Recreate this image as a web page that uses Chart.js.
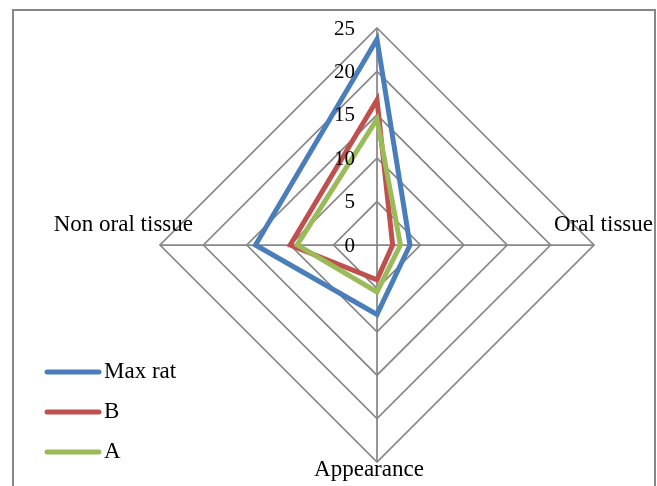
<!DOCTYPE html>
<html>
<head>
<meta charset="utf-8">
<script src="https://cdn.jsdelivr.net/npm/chart.js@4/dist/chart.umd.min.js"></script>
<style>
  html, body { margin: 0; padding: 0; background: #ffffff; }
  canvas { display: block; }
</style>
</head>
<body>
<canvas id="radar" width="657" height="486"></canvas>
<script>
// Axes of the radar, clockwise from the top
const categories = ['', 'Oral tissue', 'Appearance', 'Non oral tissue'];

// Scores per series
const maxRat = [23.7, 3.8, 8, 14];
const groupB = [16.7, 1.8, 4, 10];
const groupA = [14.5, 2.7, 5.4, 9.2];

// Radial tick values
const tickValues = [0, 5, 10, 15, 20, 25];

const SERIF = '"Liberation Serif", "Times New Roman", serif';
const GRID = '#878787';

// Outer frame around the plot
const framePlugin = {
  id: 'frame',
  beforeDraw(chart) {
    const ctx = chart.ctx;
    ctx.save();
    ctx.strokeStyle = GRID;
    ctx.lineWidth = 2;
    ctx.strokeRect(13, 10, 642, 500);
    ctx.restore();
  }
};

// Tick numbers to the left of the vertical axis, including the zero
const tickLabelPlugin = {
  id: 'tickLabels',
  afterDraw(chart) {
    const scale = chart.scales.r;
    const ctx = chart.ctx;
    ctx.save();
    ctx.font = '21px ' + SERIF;
    ctx.fillStyle = '#000000';
    ctx.textAlign = 'right';
    ctx.textBaseline = 'middle';
    tickValues.forEach(v => {
      const p = scale.getPointPositionForValue(0, v);
      ctx.fillText(String(v), p.x - 22, p.y + 1);
    });
    ctx.restore();
  }
};

// Axis names placed near each outer vertex
const pointLabelPlugin = {
  id: 'axisNames',
  afterDraw(chart) {
    const scale = chart.scales.r;
    const ctx = chart.ctx;
    const place = [
      { dx: 0, dy: -20, align: 'center' },
      { dx: -40, dy: -20, align: 'left' },
      { dx: -8, dy: 8, align: 'center' },
      { dx: 33, dy: -20, align: 'right' }
    ];
    ctx.save();
    ctx.font = '23px ' + SERIF;
    ctx.fillStyle = '#000000';
    ctx.textBaseline = 'middle';
    chart.data.labels.forEach((lbl, i) => {
      if (!lbl) return;
      const p = scale.getPointPositionForValue(i, scale.max);
      ctx.textAlign = place[i].align;
      ctx.fillText(lbl, p.x + place[i].dx, p.y + place[i].dy);
    });
    ctx.restore();
  }
};

// Legend stacked at the lower left
const legendPlugin = {
  id: 'sideLegend',
  afterDraw(chart) {
    const ctx = chart.ctx;
    ctx.save();
    ctx.font = '23px ' + SERIF;
    ctx.textAlign = 'left';
    ctx.textBaseline = 'middle';
    chart.data.datasets.forEach((ds, i) => {
      const y = 372 + i * 40;
      ctx.strokeStyle = ds.borderColor;
      ctx.lineWidth = 5;
      ctx.lineCap = 'round';
      ctx.beginPath();
      ctx.moveTo(47, y);
      ctx.lineTo(99, y);
      ctx.stroke();
      ctx.fillStyle = '#000000';
      ctx.fillText(ds.label, 104, y);
    });
    ctx.restore();
  }
};

const series = [
  { label: 'Max rat', data: maxRat, color: '#4a7ebb', order: 3 },
  { label: 'B', data: groupB, color: '#c0504d', order: 2 },
  { label: 'A', data: groupA, color: '#9bbb59', order: 1 }
];

new Chart(document.getElementById('radar'), {
  type: 'radar',
  data: {
    labels: categories,
    datasets: series.map(s => ({
      label: s.label,
      data: s.data,
      borderColor: s.color,
      backgroundColor: 'rgba(0,0,0,0)',
      borderWidth: 5,
      borderJoinStyle: 'miter',
      pointRadius: 0,
      pointHoverRadius: 0,
      fill: false,
      tension: 0,
      order: s.order
    }))
  },
  options: {
    responsive: false,
    animation: false,
    layout: { padding: { top: 28, bottom: 24, left: 98, right: 0 } },
    plugins: {
      legend: { display: false },
      tooltip: { enabled: false }
    },
    scales: {
      r: {
        min: 0,
        max: 25,
        startAngle: 0,
        ticks: { stepSize: 5, display: false },
        grid: { color: GRID, lineWidth: 1.75, circular: false },
        angleLines: { color: GRID, lineWidth: 1.75 },
        pointLabels: { display: false }
      }
    }
  },
  plugins: [framePlugin, tickLabelPlugin, pointLabelPlugin, legendPlugin]
});
</script>
</body>
</html>
